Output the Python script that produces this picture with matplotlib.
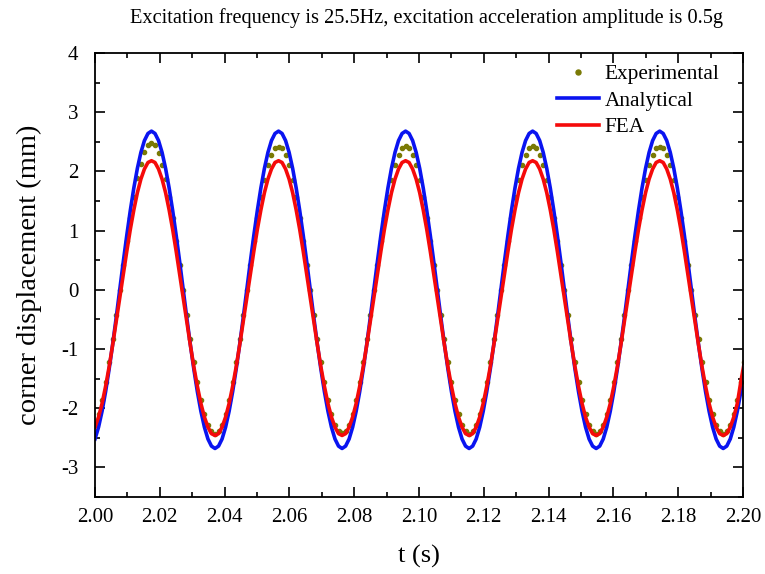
import numpy as np
import matplotlib.pyplot as plt

plt.rcParams['font.family'] = ['Liberation Serif', 'DejaVu Serif']

# samples, 918 samples per second starting at t = 2.00 s
fs = 918.0

experimental = [
    -2.28, -2.10, -1.86, -1.56, -1.22, -0.83, -0.42, 0.00, 0.42, 0.83, 1.22, 1.57, 1.88, 2.13, 2.32, 2.44, 2.48, 2.44, 2.31, 2.11, 1.87, 1.56, 1.22, 0.83, 0.42, 0.00, -0.42, -0.83, -1.22, -1.56, -1.86, -2.10, -2.28, -2.39, -2.43, -2.39,
    -2.28, -2.10, -1.86, -1.56, -1.22, -0.83, -0.42, 0.00, 0.42, 0.83, 1.22, 1.56, 1.86, 2.10, 2.28, 2.39, 2.42, 2.39, 2.28, 2.10, 1.86, 1.56, 1.22, 0.83, 0.42, 0.00, -0.42, -0.83, -1.22, -1.56, -1.86, -2.10, -2.28, -2.39, -2.42, -2.39,
    -2.28, -2.10, -1.86, -1.56, -1.22, -0.83, -0.42, 0.00, 0.42, 0.83, 1.22, 1.56, 1.86, 2.10, 2.28, 2.39, 2.43, 2.39, 2.28, 2.10, 1.86, 1.56, 1.22, 0.83, 0.42, 0.00, -0.42, -0.83, -1.22, -1.56, -1.86, -2.10, -2.28, -2.39, -2.43, -2.39,
    -2.28, -2.10, -1.86, -1.56, -1.22, -0.83, -0.42, 0.00, 0.42, 0.83, 1.22, 1.56, 1.86, 2.10, 2.28, 2.39, 2.43, 2.39, 2.28, 2.10, 1.86, 1.56, 1.22, 0.83, 0.42, 0.00, -0.42, -0.83, -1.22, -1.56, -1.86, -2.10, -2.28, -2.39, -2.43, -2.39,
    -2.28, -2.10, -1.86, -1.56, -1.22, -0.83, -0.42, 0.00, 0.42, 0.83, 1.22, 1.56, 1.86, 2.10, 2.28, 2.39, 2.42, 2.39, 2.28, 2.10, 1.86, 1.56, 1.22, 0.83, 0.42, 0.00, -0.42, -0.83, -1.22, -1.56, -1.86, -2.10, -2.28, -2.39, -2.43, -2.39,
    -2.28, -2.10, -1.86, -1.56, -1.22,
]

analytical = [
    -2.52, -2.32, -2.05, -1.72, -1.34, -0.92, -0.47, 0.00, 0.47, 0.92, 1.34, 1.72, 2.05, 2.32, 2.52, 2.64, 2.68, 2.64, 2.52, 2.32, 2.05, 1.72, 1.34, 0.92, 0.47, 0.00, -0.47, -0.92, -1.34, -1.72, -2.05, -2.32, -2.52, -2.64, -2.68, -2.64,
    -2.52, -2.32, -2.05, -1.72, -1.34, -0.92, -0.47, 0.00, 0.47, 0.92, 1.34, 1.72, 2.05, 2.32, 2.52, 2.64, 2.68, 2.64, 2.52, 2.32, 2.05, 1.72, 1.34, 0.92, 0.47, 0.00, -0.47, -0.92, -1.34, -1.72, -2.05, -2.32, -2.52, -2.64, -2.68, -2.64,
    -2.52, -2.32, -2.05, -1.72, -1.34, -0.92, -0.47, 0.00, 0.47, 0.92, 1.34, 1.72, 2.05, 2.32, 2.52, 2.64, 2.68, 2.64, 2.52, 2.32, 2.05, 1.72, 1.34, 0.92, 0.47, 0.00, -0.47, -0.92, -1.34, -1.72, -2.05, -2.32, -2.52, -2.64, -2.68, -2.64,
    -2.52, -2.32, -2.05, -1.72, -1.34, -0.92, -0.47, 0.00, 0.47, 0.92, 1.34, 1.72, 2.05, 2.32, 2.52, 2.64, 2.68, 2.64, 2.52, 2.32, 2.05, 1.72, 1.34, 0.92, 0.47, 0.00, -0.47, -0.92, -1.34, -1.72, -2.05, -2.32, -2.52, -2.64, -2.68, -2.64,
    -2.52, -2.32, -2.05, -1.72, -1.34, -0.92, -0.47, 0.00, 0.47, 0.92, 1.34, 1.72, 2.05, 2.32, 2.52, 2.64, 2.68, 2.64, 2.52, 2.32, 2.05, 1.72, 1.34, 0.92, 0.47, 0.00, -0.47, -0.92, -1.34, -1.72, -2.05, -2.32, -2.52, -2.64, -2.68, -2.64,
    -2.52, -2.32, -2.05, -1.72, -1.34,
]

fea = [
    -2.32, -2.15, -1.92, -1.63, -1.30, -0.93, -0.54, -0.14, 0.26, 0.65, 1.02, 1.35, 1.64, 1.87, 2.04, 2.15, 2.18, 2.15, 2.04, 1.87, 1.64, 1.35, 1.02, 0.65, 0.26, -0.14, -0.54, -0.93, -1.30, -1.63, -1.92, -2.15, -2.32, -2.43, -2.46, -2.43,
    -2.32, -2.15, -1.92, -1.63, -1.30, -0.93, -0.54, -0.14, 0.26, 0.65, 1.02, 1.35, 1.64, 1.87, 2.04, 2.15, 2.18, 2.15, 2.04, 1.87, 1.64, 1.35, 1.02, 0.65, 0.26, -0.14, -0.54, -0.93, -1.30, -1.63, -1.92, -2.15, -2.32, -2.43, -2.46, -2.43,
    -2.32, -2.15, -1.92, -1.63, -1.30, -0.93, -0.54, -0.14, 0.26, 0.65, 1.02, 1.35, 1.64, 1.87, 2.04, 2.15, 2.18, 2.15, 2.04, 1.87, 1.64, 1.35, 1.02, 0.65, 0.26, -0.14, -0.54, -0.93, -1.30, -1.63, -1.92, -2.15, -2.32, -2.43, -2.46, -2.43,
    -2.32, -2.15, -1.92, -1.63, -1.30, -0.93, -0.54, -0.14, 0.26, 0.65, 1.02, 1.35, 1.64, 1.87, 2.04, 2.15, 2.18, 2.15, 2.04, 1.87, 1.64, 1.35, 1.02, 0.65, 0.26, -0.14, -0.54, -0.93, -1.30, -1.63, -1.92, -2.15, -2.32, -2.43, -2.46, -2.43,
    -2.32, -2.15, -1.92, -1.63, -1.30, -0.93, -0.54, -0.14, 0.26, 0.65, 1.02, 1.35, 1.64, 1.87, 2.04, 2.15, 2.18, 2.15, 2.04, 1.87, 1.64, 1.35, 1.02, 0.65, 0.26, -0.14, -0.54, -0.93, -1.30, -1.63, -1.92, -2.15, -2.32, -2.43, -2.46, -2.43,
    -2.32, -2.15, -1.92, -1.55, -1.22,
]

t = 2.0 + np.arange(len(analytical)) / fs

xticks = [2.00, 2.02, 2.04, 2.06, 2.08, 2.10, 2.12, 2.14, 2.16, 2.18, 2.20]
yticks = [-3, -2, -1, 0, 1, 2, 3, 4]

fig = plt.figure(figsize=(7.65, 5.74), dpi=100)
ax = fig.add_axes([0.1242, 0.1341, 0.8470, 0.7736])

ax.plot(t, experimental, linestyle='none', marker='o', markersize=3.0,
        color='#7a7a05', label='Experimental')
ax.plot(t, analytical, color='#0a14f0', linewidth=2.6, label='Analytical')
ax.plot(t, fea, color='#f50a0a', linewidth=2.6, label='FEA')

ax.set_xlim(2.0, 2.2)
ax.set_ylim(-3.5, 4)
ax.set_xticks(xticks)
ax.set_xticklabels([f'{v:.2f}' for v in xticks])
ax.set_yticks(yticks)
ax.set_yticklabels([str(v) for v in yticks])
ax.set_xticks(np.arange(2.01, 2.2, 0.02), minor=True)
ax.set_yticks(np.arange(-3.5, 4.0, 1.0), minor=True)
ax.tick_params(which='both', direction='in', top=True, right=True, width=1.2, labelsize=15)
ax.tick_params(which='major', length=7)
ax.tick_params(which='minor', length=3.5)
ax.tick_params(axis='x', pad=8)
ax.tick_params(axis='y', pad=12)
for s in ax.spines.values():
    s.set_linewidth(1.3)

ax.set_xlabel('t (s)', fontsize=19, labelpad=13)
ax.set_ylabel('corner displacement (mm)', fontsize=20.5, labelpad=14)
fig.text(0.557, 0.968, 'Excitation frequency is 25.5Hz, excitation acceleration amplitude is 0.5g',
         ha='center', va='center', fontsize=14.7)

ax.legend(loc='upper right', bbox_to_anchor=(0.985, 1.005), frameon=False, fontsize=15.3,
          handlelength=2.0, handletextpad=0.25, labelspacing=0.3, markerscale=1.2,
          borderaxespad=0.25)

fig.savefig('out.png', dpi=100)
